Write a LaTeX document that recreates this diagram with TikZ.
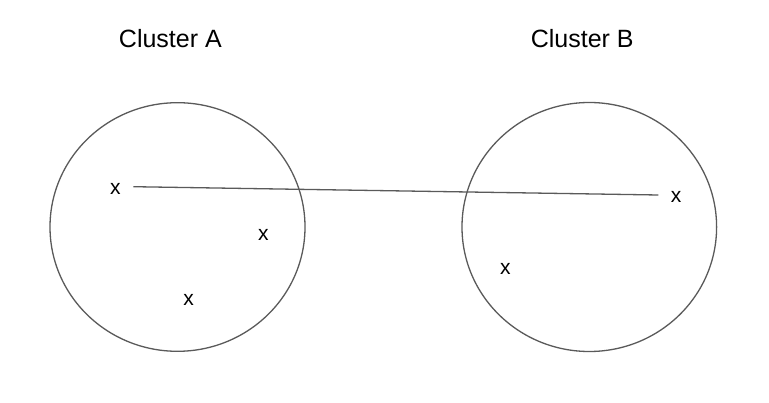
\documentclass[tikz,border=0pt]{standalone}
\usepackage{fontspec}
\setmainfont{Liberation Sans}
\definecolor{stroke}{HTML}{5a5a5a}
\begin{document}
\begin{tikzpicture}[x=1pt,y=-1pt,
  title/.style={font=\fontsize{25}{29}\selectfont,anchor=base,inner sep=0pt},
  pt/.style={font=\fontsize{21}{25}\selectfont,anchor=base,inner sep=0pt},
  link/.style={draw=stroke,line width=1.3pt}]
\useasboundingbox (0,0) rectangle (769,403);
\fill[white] (0,0) rectangle (769,403);
\draw[link] (177.5,227) ellipse [x radius=127.5, y radius=124.3];
\draw[link] (589.3,227) ellipse [x radius=127.3, y radius=124.5];
\node[title] (ta) at (170.4,48) {Cluster A};
\node[title] (tb) at (582.2,48) {Cluster B};
\node[pt] (x1) at (115.3,195) {x};
\node[pt] (x2) at (263.3,241) {x};
\node[pt] (x3) at (188.7,306) {x};
\node[pt] (x4) at (505.3,275) {x};
\node[pt] (x5) at (676,202.7) {x};
\coordinate (l1) at (133.3,186.7);
\coordinate (l2) at (658.3,195);
\draw[link] (l1) -- (l2);
\end{tikzpicture}
\end{document}
